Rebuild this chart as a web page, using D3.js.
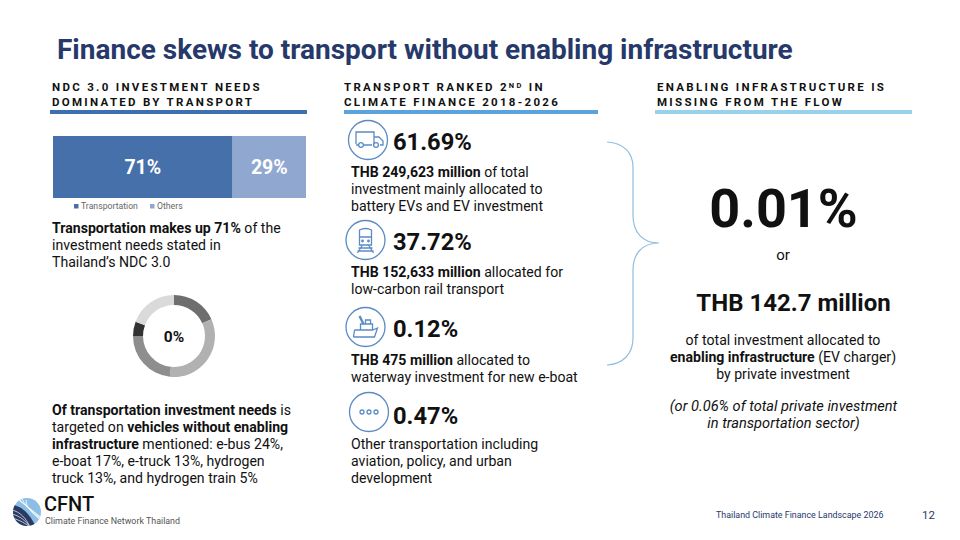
<!DOCTYPE html>
<html>
<head>
<meta charset="utf-8">
<script src="https://cdn.jsdelivr.net/npm/d3@7"></script>
<style>
html, body { margin: 0; padding: 0; background: #fff; }
svg { display: block; }
text { font-family: Roboto, sans-serif; fill: #111; }
</style>
</head>
<body>
<div id="chart"></div>
<script>
var titleText = 'Finance skews to transport without enabling infrastructure';

var stackNames = ['Transportation', 'Others'];
var stackValues = [71, 29];
var stackColors = ['#4670aa', '#90a8d0'];

var ringValues = [18.3, 33.3, 23.3, 5.8, 19.3];
var ringColors = ['#6e6e6e', '#b1b1b1', '#8e8e8e', '#333333', '#dadada'];
var ringLabel = '0%';

var headers = [
    { x: 52, lines: ['NDC 3.0 INVESTMENT NEEDS', 'DOMINATED BY TRANSPORT'], rule: [50, 307], color: '#3f6fb0' },
    { x: 344, lines: ['TRANSPORT RANKED 2ND IN', 'CLIMATE FINANCE 2018-2026'], rule: [344, 598], color: '#5aa3dc' },
    { x: 657, lines: ['ENABLING INFRASTRUCTURE IS', 'MISSING FROM THE FLOW'], rule: [655, 912], color: '#9bd0ec' }
];

// each line is a list of [text, bold]
var leftTop = [
    [['Transportation makes up 71%', 1], [' of the', 0]],
    [['investment needs stated in', 0]],
    [['Thailand\u2019s NDC 3.0', 0]]
];
var leftBottom = [
    [['Of transportation investment needs', 1], [' is', 0]],
    [['targeted on ', 0], ['vehicles without enabling', 1]],
    [['infrastructure', 1], [' mentioned: e-bus 24%,', 0]],
    [['e-boat 17%, e-truck 13%, hydrogen', 0]],
    [['truck 13%, and hydrogen train 5%', 0]]
];

var modes = ['truck', 'train', 'boat', 'dots'];
var modeShares = ['61.69%', '37.72%', '0.12%', '0.47%'];
var modeShareY = [150, 250, 337, 424];
var modeIconX = [368, 365.5, 365.5, 369];
var modeIconY = [140, 240, 327, 412];
var modeLines = [
    [[['THB 249,623 million', 1], [' of total', 0]], [['investment mainly allocated to', 0]], [['battery EVs and EV investment', 0]]],
    [[['THB 152,633 million', 1], [' allocated for', 0]], [['low-carbon rail transport', 0]]],
    [[['THB 475 million', 1], [' allocated to', 0]], [['waterway investment for new e-boat', 0]]],
    [[['Other transportation including', 0]], [['aviation, policy, and urban', 0]], [['development', 0]]]
];
var modeLineY = [177, 277, 365, 449];

var rightLines = [
    [['of total investment allocated to', 0]],
    [['enabling infrastructure', 1], [' (EV charger)', 0]],
    [['by private investment', 0]]
];
var rightNote = ['(or 0.06% of total private investment', 'in transportation sector)'];

var svg = d3.select('#chart').append('svg').attr('width', 960).attr('height', 540);

function richText(parent, x, y, lines, size, step, anchor) {
    lines.forEach(function(line, i) {
        var t = parent.append('text')
            .attr('x', x)
            .attr('y', y + i * step)
            .attr('text-anchor', anchor || 'start')
            .style('font-size', size + 'px');
        line.forEach(function(part) {
            t.append('tspan')
                .style('font-weight', part[1] ? 700 : 400)
                .text(part[0]);
        });
    });
}

// title
svg.append('text')
    .attr('x', 57)
    .attr('y', 59)
    .style('font-size', '28px')
    .style('font-weight', 700)
    .style('fill', '#26396a')
    .text(titleText);

// column headers
headers.forEach(function(h) {
    h.lines.forEach(function(line, i) {
        var t = svg.append('text')
            .attr('x', h.x)
            .attr('y', 91 + i * 14.5)
            .style('font-size', '11.5px')
            .style('font-weight', 700)
            .style('letter-spacing', '2.3px');
        var m = line.match(/^(.*2)(ND)( IN)$/);
        if (m) {
            t.append('tspan').text(m[1]);
            t.append('tspan').attr('dy', -3).style('font-size', '7.5px').text(m[2]);
            t.append('tspan').attr('dy', 3).text(m[3]);
        } else {
            t.text(line);
        }
    });
    svg.append('rect')
        .attr('x', h.rule[0])
        .attr('y', 110)
        .attr('width', h.rule[1] - h.rule[0])
        .attr('height', 4)
        .attr('fill', h.color);
});

// stacked bar
var stackX = d3.scaleLinear().domain([0, 100]).range([53, 306]);
var stackData = d3.stack().keys(stackNames)([{ Transportation: stackValues[0], Others: stackValues[1] }]);
stackData.forEach(function(s, i) {
    var d = s[0];
    svg.append('rect')
        .attr('x', stackX(d[0]))
        .attr('y', 136)
        .attr('width', stackX(d[1]) - stackX(d[0]))
        .attr('height', 62)
        .attr('fill', stackColors[i]);
    svg.append('text')
        .attr('x', stackX((d[0] + d[1]) / 2))
        .attr('y', 174)
        .attr('text-anchor', 'middle')
        .style('font-size', '19.5px')
        .style('font-weight', 700)
        .style('fill', '#fff')
        .text(stackValues[i] + '%');
});

// legend
var legendX = [74, 150];
stackNames.forEach(function(n, i) {
    svg.append('rect')
        .attr('x', legendX[i])
        .attr('y', 204)
        .attr('width', 4.5)
        .attr('height', 4.5)
        .attr('fill', stackColors[i]);
    svg.append('text')
        .attr('x', legendX[i] + 7)
        .attr('y', 209)
        .style('font-size', '8.7px')
        .style('fill', '#666')
        .text(n);
});

richText(svg, 52, 233, leftTop, 14.1, 17);

// donut
var ring = svg.append('g').attr('transform', 'translate(174,336)');
var arc = d3.arc().innerRadius(31).outerRadius(41);
ring.selectAll('path')
    .data(d3.pie().sort(null)(ringValues))
    .enter().append('path')
    .attr('d', arc)
    .attr('fill', function(d, i) { return ringColors[i]; });
ring.append('text')
    .attr('y', 5.5)
    .attr('text-anchor', 'middle')
    .style('font-size', '15.5px')
    .style('font-weight', 700)
    .text(ringLabel);

richText(svg, 52, 415, leftBottom, 14.1, 17);

// icons for the middle column
var iconBlue = '#5b8bc5';
function drawIcon(kind, cx, cy) {
    var g = svg.append('g').attr('transform', 'translate(' + cx + ',' + cy + ')')
        .attr('fill', 'none').attr('stroke', iconBlue).attr('stroke-width', 1.3);
    g.append('circle').attr('r', 19.5);
    if (kind == 'truck') {
        g.append('path').attr('d', 'M-12,4V-8H6V4M6,-3H11L15,1V5H12M-9,5H-12M-4,5H4');
        g.append('circle').attr('cx', -7).attr('cy', 5).attr('r', 2.4);
        g.append('circle').attr('cx', 8).attr('cy', 5).attr('r', 2.4);
    } else if (kind == 'train') {
        g.append('path').attr('d', 'M-6,-10Q0,-13 6,-10V5H-6ZM-6,-3H6M-3,5L-8,13M3,5L8,13M-7,8H7M-8,11H8');
        g.append('circle').attr('cx', -3).attr('cy', 1).attr('r', 0.8);
        g.append('circle').attr('cx', 3).attr('cy', 1).attr('r', 0.8);
    } else if (kind == 'boat') {
        g.append('path').attr('d', 'M-12,10H9L12,1L7,3H-11M-12,10L-11,3M-5,3V-3H7V3M0,-3V-7H5V-3');
        g.append('path').attr('d', 'M-2,-3L-6,-11').attr('stroke-width', 2.4);
    } else {
        [-7, 0, 7].forEach(function(dx) {
            g.append('circle').attr('cx', dx).attr('r', 2);
        });
    }
}

modes.forEach(function(m, i) {
    drawIcon(m, modeIconX[i], modeIconY[i]);
    svg.append('text')
        .attr('x', 393)
        .attr('y', modeShareY[i])
        .style('font-size', '23.7px')
        .style('font-weight', 700)
        .text(modeShares[i]);
    richText(svg, 351, modeLineY[i], modeLines[i], 14.1, 17);
});

// brace
svg.append('path')
    .attr('d', 'M607,142C624,143 633,153 633,167V215C633,232 642,243 659,243C642,243 633,254 633,270V338C633,353 624,364 607,365')
    .attr('fill', 'none')
    .attr('stroke', '#8fbfe3')
    .attr('stroke-width', 1.2);

// right column
svg.append('text')
    .attr('x', 783.5).attr('y', 227)
    .attr('text-anchor', 'middle')
    .style('font-size', '54px')
    .style('font-weight', 700)
    .text('0.01%');
svg.append('text')
    .attr('x', 783).attr('y', 260)
    .attr('text-anchor', 'middle')
    .style('font-size', '15px')
    .text('or');
svg.append('text')
    .attr('x', 793.5).attr('y', 311)
    .attr('text-anchor', 'middle')
    .style('font-size', '24px')
    .style('font-weight', 700)
    .text('THB 142.7 million');
richText(svg, 783, 345, rightLines, 14.1, 17, 'middle');
rightNote.forEach(function(line, i) {
    svg.append('text')
        .attr('x', 783.5)
        .attr('y', 411 + i * 17)
        .attr('text-anchor', 'middle')
        .style('font-size', '14.6px')
        .style('font-style', 'italic')
        .text(line);
});

// logo
var defs = svg.append('defs');
defs.append('clipPath').attr('id', 'logoClip')
    .append('circle').attr('cx', 27).attr('cy', 512).attr('r', 14);
var logo = svg.append('g').attr('clip-path', 'url(#logoClip)');
logo.append('rect').attr('x', 12).attr('y', 497).attr('width', 30).attr('height', 30).attr('fill', '#8dbfe6');
logo.append('path').attr('d', 'M12,505C22,506 30,514 36,527H12Z').attr('fill', '#2b3a63');
[0, 1, 2, 3].forEach(function(k) {
    logo.append('path')
        .attr('d', 'M' + (14 + k * 4) + ',' + (497 + k) + 'C26,' + (505 + k) + ' 34,' + (512 + k) + ' 42,' + (518 + k))
        .attr('fill', 'none').attr('stroke', '#fff').attr('stroke-width', 0.8);
});
[0, 1, 2].forEach(function(k) {
    logo.append('path')
        .attr('d', 'M12,' + (510 + k * 4) + 'C20,' + (512 + k * 4) + ' 26,' + (518 + k * 3) + ' 30,527')
        .attr('fill', 'none').attr('stroke', '#fff').attr('stroke-width', 0.7);
});
svg.append('text').attr('x', 44).attr('y', 511)
    .style('font-size', '20px').style('font-weight', 500).text('CFNT');
svg.append('text').attr('x', 45).attr('y', 524)
    .style('font-size', '8.9px').style('fill', '#555').text('Climate Finance Network Thailand');

// footer
svg.append('text').attr('x', 716).attr('y', 518)
    .style('font-size', '8.9px').style('fill', '#26396a').text('Thailand Climate Finance Landscape 2026');
svg.append('text').attr('x', 922).attr('y', 519)
    .style('font-size', '11.5px').style('fill', '#26396a').text('12');
</script>
</body>
</html>
